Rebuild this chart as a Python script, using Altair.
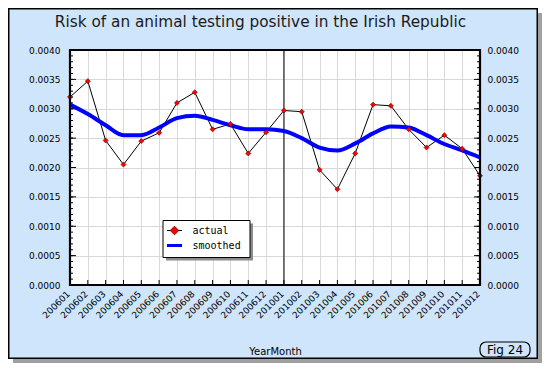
import altair as alt
import pandas as pd

# ---------------- data ----------------
months = ["200601", "200602", "200603", "200604", "200605", "200606",
          "200607", "200608", "200609", "200610", "200611", "200612",
          "201001", "201002", "201003", "201004", "201005", "201006",
          "201007", "201008", "201009", "201010", "201011", "201012"]
actual = [0.00320, 0.00347, 0.00246, 0.00205, 0.00245, 0.00259,
          0.00310, 0.00328, 0.00265, 0.00274, 0.00224, 0.00260,
          0.00297, 0.00295, 0.00196, 0.00163, 0.00224, 0.00307,
          0.00305, 0.00265, 0.00234, 0.00255, 0.00232, 0.00186]
smoothed = [0.00307, 0.00291, 0.00272, 0.00255, 0.00255, 0.00268,
            0.00284, 0.00288, 0.00281, 0.00272, 0.00265, 0.00265,
            0.00262, 0.00250, 0.00234, 0.00229, 0.00241, 0.00258,
            0.00270, 0.00268, 0.00255, 0.00240, 0.00229, 0.00217]
series_names = ["actual", "smoothed"]
y_major = [0.0000, 0.0005, 0.0010, 0.0015, 0.0020, 0.0025, 0.0030, 0.0035, 0.0040]
y_minor = [i / 10000 for i in range(41)]
marker_month = "201001"
title_text = "Risk of an animal testing positive in the Irish Republic"
x_title = "YearMonth"
fig_label = "Fig 24"

# ---------------- styling ----------------
W, H = 410, 235
BG = "#CFE5FB"
FONT = "DejaVu Sans"
MONO = "DejaVu Sans Mono"
GRID = "#D9D9D9"

df = pd.DataFrame({"month": months, "actual": actual, "smoothed": smoothed})
one = alt.Data(values=[{"k": 1}])

xscale = alt.Scale(type="point", padding=0, domain=months)
yscale = alt.Scale(domain=[0, 0.004], nice=False, zero=True)


def deco_rect(x, x2, y, y2, **kw):
    return alt.Chart(one).mark_rect(**kw).encode(
        x=alt.value(x), x2=alt.value(x2), y=alt.value(y), y2=alt.value(y2))


def deco_rule(x, x2, y, **kw):
    return alt.Chart(one).mark_rule(**kw).encode(
        x=alt.value(x), x2=alt.value(x2), y=alt.value(y))


def deco_text(txt, x, y, **kw):
    return alt.Chart(one).mark_text(text=txt, **kw).encode(
        x=alt.value(x), y=alt.value(y))


x_axis = alt.Axis(title=x_title, orient="bottom", labelAngle=315,
                  labelAlign="right", labelBaseline="middle", labelFont=FONT,
                  labelFontSize=9, labelColor="black", labelPadding=7,
                  labelOffset=-2, labelOverlap=False,
                  ticks=False, domain=False, grid=True, gridColor=GRID,
                  titleFont=FONT, titleFontSize=10, titleFontWeight="normal",
                  titleColor="black", titleY=66, titleBaseline="middle")
y_left = alt.Axis(orient="left", values=y_major, format=".4f", labelFont=FONT,
                  labelFontSize=9, labelColor="black", labelPadding=10,
                  ticks=False, domain=False, grid=True, gridColor=GRID,
                  title=None)
y_right = alt.Axis(orient="right", values=y_major, format=".4f", labelFont=FONT,
                   labelFontSize=9, labelColor="black", labelPadding=7,
                   ticks=False, domain=False, grid=False, title=None)

X = alt.X("month:O", scale=xscale, axis=None)

actual_line = alt.Chart(df).mark_line(color="black", strokeWidth=1).encode(
    x=alt.X("month:O", scale=xscale, axis=x_axis),
    y=alt.Y("actual:Q", scale=yscale, axis=y_left))

smooth_line = alt.Chart(df).mark_line(color="#0000FF", strokeWidth=4,
                                      interpolate="monotone").encode(
    x=X, y=alt.Y("smoothed:Q", scale=yscale, axis=y_right))

points = alt.Chart(df).mark_point(shape="diamond", filled=True, fill="#FF0000",
                                  stroke="#700000", strokeWidth=0.6, size=26,
                                  opacity=1).encode(
    x=X, y=alt.Y("actual:Q", scale=yscale, axis=None))

major_df = pd.DataFrame({"v": y_major})
minor_df = pd.DataFrame({"v": y_minor})


def ytick(data, x0, x1):
    return alt.Chart(data).mark_rule(color="black", strokeWidth=1).encode(
        y=alt.Y("v:Q", scale=yscale, axis=None), x=alt.value(x0), x2=alt.value(x1))


ticks = [ytick(minor_df, 0, 3), ytick(major_df, 0, 6),
         ytick(minor_df, W - 3, W), ytick(major_df, W - 6, W)]

bottom_ticks = alt.Chart(df).mark_rule(color="black", strokeWidth=1).encode(
    x=X, y=alt.value(H - 5), y2=alt.value(H))

marker = alt.Chart(pd.DataFrame({"month": [marker_month]})).mark_rule(
    color="black", strokeWidth=1).encode(x=X, y=alt.value(0), y2=alt.value(H))

frame = deco_rect(0, W, 0, H, fill="transparent", stroke="black", strokeWidth=2.2)

# outer panel border + drop shadow
edge = [
    deco_rect(468, 472, -42, 313, fill="white"),
    deco_rect(-62, 472, 309, 313, fill="white"),
    deco_rect(468, 472, -37, 313, fill="#A0A0A0"),
    deco_rect(-57, 472, 309, 313, fill="#A0A0A0"),
    deco_rect(-61.25, 467.25, -41.25, 308.25, fill="transparent", stroke="black",
              strokeWidth=1.5),
]

title = deco_text(title_text, 190.5, -28, font=FONT, fontSize=15.3,
                  color="#1A1A1A", align="center", baseline="middle")

legend = [
    deco_rect(96, 183, 173.5, 210.5, fill="#8C8C8C"),
    deco_rect(93, 180, 170.5, 207.5, fill="white", stroke="black", strokeWidth=1),
    deco_rule(97, 112, 180.5, color="black", strokeWidth=1),
    alt.Chart(one).mark_point(shape="diamond", filled=True, fill="#FF0000",
                              stroke="#700000", strokeWidth=0.8, size=75,
                              opacity=1).encode(x=alt.value(104.5), y=alt.value(180.5)),
    deco_rule(97, 112, 195.5, color="#0000FF", strokeWidth=3),
    deco_text(series_names[0], 122.5, 180.5, font=MONO, fontSize=10,
              color="black", align="left", baseline="middle"),
    deco_text(series_names[1], 122.5, 195.5, font=MONO, fontSize=10,
              color="black", align="left", baseline="middle"),
]

fig_box = [
    deco_rect(410, 460, 292, 307, fill="transparent", stroke="black",
              strokeWidth=1.2, cornerRadius=6),
    deco_text(fig_label, 435, 299.5, font=FONT, fontSize=12, color="black",
              align="center", baseline="middle"),
]

chart = alt.layer(
    actual_line, *ticks, bottom_ticks, marker, smooth_line, points, frame,
    *edge, title, *legend, *fig_box
).resolve_axis(x="independent", y="independent").properties(
    width=W, height=H,
    autosize=alt.AutoSizeParams(type="none"),
    padding={"left": 62, "top": 42, "right": 62, "bottom": 78},
    background=BG,
).configure_view(fill="white", stroke="transparent")

chart.save("out.html", embed_options={"renderer": "svg", "actions": False})
